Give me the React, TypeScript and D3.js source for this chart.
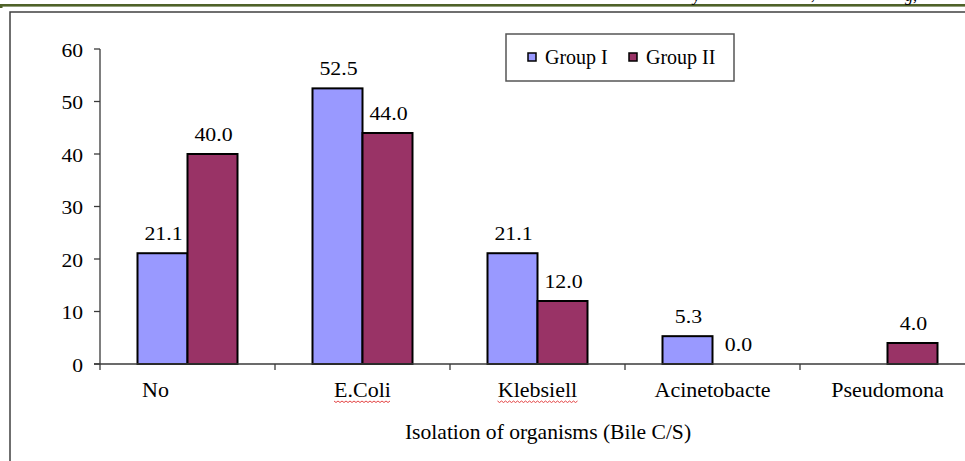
import React from 'react';
import * as d3 from 'd3';

// ==================== DATA ====================
const categories = ['No', 'E.Coli', 'Klebsiell', 'Acinetobacte', 'Pseudomona'];
const groupI: (number | null)[] = [21.1, 52.5, 21.1, 5.3, null];
const groupII: (number | null)[] = [40.0, 44.0, 12.0, 0.0, 4.0];
const seriesNames = ['Group I', 'Group II'];
const yTicks = [0, 10, 20, 30, 40, 50, 60];
const xTitle = 'Isolation of organisms (Bile C/S)';

// ==================== STYLE ====================
const COLORS = {
    groupI: '#9999FF',
    groupII: '#993366',
    axis: '#3a3a3a',
    frame: '#404040',
    header: '#4F6228',
    text: '#000000',
};
const FONT = "'Liberation Serif', 'Times New Roman', serif";
const W = 965;
const H = 461;

// horizontal stretch of the scanned text
const Txt = ({ x, y, sx = 1.1, size = 20, anchor = 'middle', children, style }: any) => (
    <text
        transform={`translate(${x},${y}) scale(${sx},1)`}
        textAnchor={anchor}
        fontFamily={FONT}
        fontSize={size}
        fill={COLORS.text}
        style={style}
    >
        {children}
    </text>
);

const App = () => {
    const x = d3.scaleBand<string>().domain(categories).range([100, 975]).padding(0);
    const inner = d3.scaleBand<string>().domain(seriesNames).range([0, x.bandwidth()])
        .paddingInner(0).paddingOuter(0.75);
    const y = d3.scaleLinear().domain([0, 60]).range([364, 49]);

    const series = [
        { name: seriesNames[0], values: groupI, color: COLORS.groupI },
        { name: seriesNames[1], values: groupII, color: COLORS.groupII },
    ];

    // category label nudges as in the original
    const labelShift: Record<string, number> = { No: -32 };
    // spell-check squiggles under some labels
    const squiggle: Record<string, number> = { 'E.Coli': 57, Klebsiell: 80 };

    const zigzag = (cx: number, w: number, yy: number) => {
        const pts: [number, number][] = [];
        for (let i = 0; i <= w; i += 2) pts.push([cx - w / 2 + i, yy + ((i / 2) % 2 === 0 ? 0 : 1.5)]);
        return d3.line()(pts) as string;
    };

    return (
        <svg width={W} height={H} style={{ position: 'fixed', left: 0, top: 0, background: '#fff' }}>
            {/* page header remnants */}
            <rect x={0} y={4} width={W} height={2.6} fill={COLORS.header} />
            <rect x={0} y={4} width={2.5} height={4} fill={COLORS.header} />
            <g fontFamily={FONT} fontSize={16} fontStyle="italic" fill="#000">
                <text x={693} y={1}>y</text>
                <text x={811} y={0}>,</text>
                <text x={905} y={1}>g,</text>
            </g>

            {/* chart frame */}
            <rect x={10} y={12} width={1000} height={500} fill="#fff" stroke={COLORS.frame} strokeWidth={1.5} />

            {/* y axis */}
            <line x1={100} x2={100} y1={y(60)} y2={y(0)} stroke={COLORS.axis} strokeWidth={1.3} />
            {yTicks.map(t => (
                <g key={t}>
                    <line x1={94} x2={100} y1={y(t)} y2={y(t)} stroke={COLORS.axis} strokeWidth={1.3} />
                    <Txt x={83} y={y(t) + 7.5} anchor="end" size={18} sx={1.2}>{t}</Txt>
                </g>
            ))}

            {/* bars */}
            {series.map(s => (
                <g key={s.name}>
                    {categories.map((c, i) => {
                        const v = s.values[i];
                        if (v == null) return null;
                        const bx = (x(c) as number) + (inner(s.name) as number);
                        const bw = inner.bandwidth();
                        return (
                            <g key={c}>
                                {v > 0 && (
                                    <rect x={bx} y={y(v)} width={bw} height={y(0) - y(v)}
                                        fill={s.color} stroke="#000" strokeWidth={2} />
                                )}
                                <Txt x={bx + bw / 2 + 1} y={y(v) - 13} size={19} sx={1.15}>{v.toFixed(1)}</Txt>
                            </g>
                        );
                    })}
                </g>
            ))}

            {/* x axis */}
            <line x1={94} x2={W} y1={y(0)} y2={y(0)} stroke={COLORS.axis} strokeWidth={1.3} />
            {[...categories.map(c => x(c) as number), 975].map((tx, i) => (
                <line key={i} x1={tx} x2={tx} y1={y(0)} y2={y(0) + 6} stroke={COLORS.axis} strokeWidth={1.3} />
            ))}
            {categories.map(c => {
                const cx = (x(c) as number) + x.bandwidth() / 2 + (labelShift[c] || 0);
                return (
                    <g key={c}>
                        <Txt x={cx} y={397}>{c}</Txt>
                        {squiggle[c] && (
                            <path d={zigzag(cx, squiggle[c], 401)} fill="none" stroke="#e03030" strokeWidth={0.9} />
                        )}
                    </g>
                );
            })}
            <Txt x={548} y={438.5} sx={1.08}>{xTitle}</Txt>

            {/* legend */}
            <rect x={506} y={34} width={228} height={47} fill="#fff" stroke="#555" strokeWidth={1.5} />
            {series.map((s, i) => {
                const lx = i === 0 ? 528 : 629;
                return (
                    <g key={s.name}>
                        <rect x={lx} y={53} width={8} height={8} fill={s.color} stroke="#000" strokeWidth={1.5} />
                        <Txt x={lx + 17} y={63.5} anchor="start" size={20} sx={1}>{s.name}</Txt>
                    </g>
                );
            })}
        </svg>
    );
};

export default App;
